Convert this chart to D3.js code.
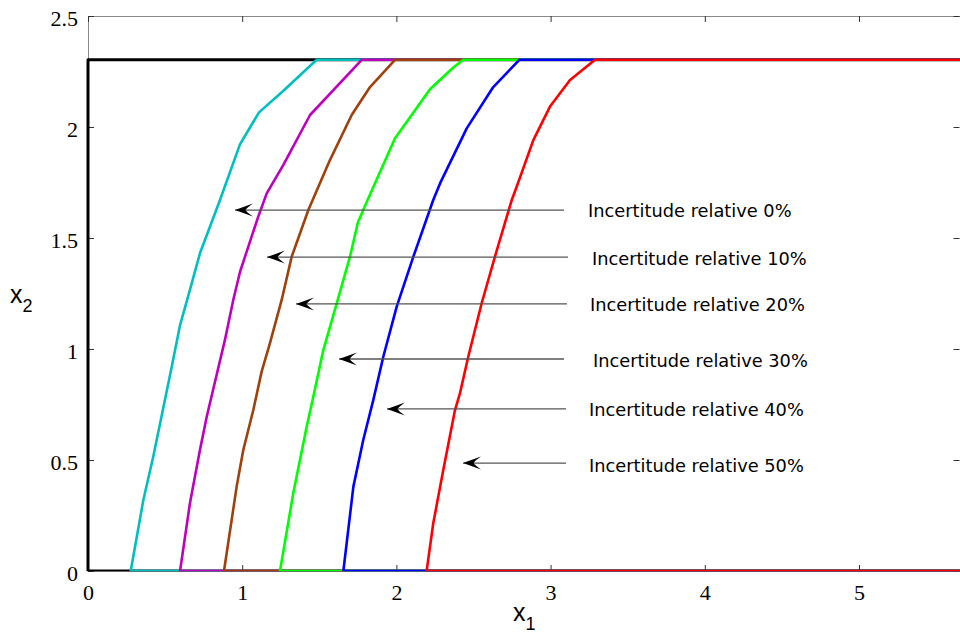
<!DOCTYPE html>
<html>
<head>
<meta charset="utf-8">
<script src="https://cdn.jsdelivr.net/npm/d3@7"></script>
<style>
  body { margin: 0; background: #fff; }
  svg { display: block; }
  .axis text { font-family: "Liberation Serif", "Times New Roman", serif; }
</style>
</head>
<body>
<script>
// Frontier curves, one per relative uncertainty (x1, x2)
var xMax = 5.655
var plateau = 2.3026

var curve0 = [[0, 0], [0, 2.3026]]
var curve10 = [[0.277, 0], [0.359, 0.32], [0.423, 0.515], [0.543, 0.92], [0.597, 1.108],
  [0.661, 1.266], [0.726, 1.431], [0.856, 1.671], [0.986, 1.923], [1.109, 2.066],
  [1.26, 2.159], [1.483, 2.3026]]
var curve20 = [[0.597, 0], [0.661, 0.305], [0.726, 0.545], [0.77, 0.695], [0.888, 1.041],
  [0.942, 1.221], [0.986, 1.348], [1.104, 1.596], [1.159, 1.701], [1.267, 1.829],
  [1.44, 2.054], [1.775, 2.3026]]
var curve30 = [[0.882, 0], [0.964, 0.38], [1.007, 0.545], [1.072, 0.725], [1.126, 0.898],
  [1.18, 1.026], [1.256, 1.221], [1.321, 1.416], [1.429, 1.626], [1.569, 1.851],
  [1.71, 2.054], [1.829, 2.18], [1.991, 2.3026]]
var curve40 = [[1.245, 0], [1.331, 0.35], [1.418, 0.65], [1.461, 0.785], [1.526, 0.995],
  [1.613, 1.206], [1.699, 1.416], [1.75, 1.57], [1.813, 1.671],
  [1.991, 1.949], [2.218, 2.17], [2.369, 2.268], [2.434, 2.3026]]
var curve50 = [[1.656, 0], [1.721, 0.38], [1.785, 0.59], [1.85, 0.77], [1.915, 0.965],
  [2.002, 1.191], [2.11, 1.416], [2.239, 1.671], [2.283, 1.746], [2.456, 1.994],
  [2.628, 2.18], [2.797, 2.3026]]
var curve60 = [[2.196, 0], [2.239, 0.215], [2.304, 0.455], [2.38, 0.725], [2.412, 0.8],
  [2.466, 0.965], [2.553, 1.206], [2.639, 1.416], [2.748, 1.671], [2.78, 1.731],
  [2.888, 1.941], [2.996, 2.092], [3.126, 2.212], [3.288, 2.3026]]

var curves = [curve0, curve10, curve20, curve30, curve40, curve50, curve60]
var curveColors = ['#000000', '#00bfbf', '#bf00bf', '#a0400a', '#00ff00', '#0000ff', '#ff0000']

var xTicks = [0, 1, 2, 3, 4, 5]
var yTicks = [0, 0.5, 1, 1.5, 2, 2.5]

// Arrow annotations: label, tail x, tip x, arrow height, text x, text height
var noteLabels = ['Incertitude relative 0%', 'Incertitude relative 10%', 'Incertitude relative 20%',
  'Incertitude relative 30%', 'Incertitude relative 40%', 'Incertitude relative 50%']
var noteTail = [3.087, 3.113, 3.106, 3.087, 3.1, 3.1]
var noteTip = [0.953, 1.161, 1.349, 1.628, 1.939, 2.432]
var noteY = [1.626, 1.414, 1.203, 0.955, 0.73, 0.486]
var noteTextX = [3.243, 3.268, 3.256, 3.275, 3.249, 3.249]
var noteTextY = [1.622, 1.405, 1.198, 0.946, 0.725, 0.477]

var W = 960, H = 635
var margin = { top: 16, right: 0, bottom: 64, left: 88 }
var w = W - margin.left - margin.right
var h = H - margin.top - margin.bottom

var xScale = d3.scaleLinear().domain([0, xMax]).range([0, w])
var yScale = d3.scaleLinear().domain([0, 2.5]).range([h, 0])

var svg = d3.select('body').append('svg')
    .attr('width', W)
    .attr('height', H)

var defs = svg.append('defs')
defs.append('clipPath')
    .attr('id', 'plotclip')
  .append('rect')
    .attr('x', -4)
    .attr('y', -4)
    .attr('width', w + 4)
    .attr('height', h + 4.3)

defs.append('marker')
    .attr('id', 'head')
    .attr('viewBox', '0 -7 18 14')
    .attr('refX', 18)
    .attr('refY', 0)
    .attr('markerUnits', 'userSpaceOnUse')
    .attr('markerWidth', 18)
    .attr('markerHeight', 14)
    .attr('orient', 'auto')
  .append('path')
    .attr('d', 'M18,0 L0,-6.5 Q6,-2.5 7.5,0 Q6,2.5 0,6.5 Z')
    .attr('fill', '#000')

var g = svg.append('g')
    .attr('transform', 'translate(' + margin.left + ',' + margin.top + ')')

// Axes box
g.append('rect')
    .attr('x', 0.5)
    .attr('y', 0.5)
    .attr('width', w)
    .attr('height', h)
    .attr('fill', 'none')
    .attr('stroke', '#8a8a8a')
    .attr('stroke-width', 1)

// Ticks (inside the box, on all four sides)
var fmt = d3.format('')
var xAxis = d3.axisBottom(xScale).tickValues(xTicks).tickSizeInner(-6).tickSizeOuter(0).tickPadding(12).tickFormat(fmt)
var yAxis = d3.axisLeft(yScale).tickValues(yTicks).tickSizeInner(-6).tickSizeOuter(0).tickPadding(10).tickFormat(fmt)

var gx = g.append('g')
    .attr('class', 'axis')
    .attr('transform', 'translate(0,' + h + ')')
    .call(xAxis)
var gy = g.append('g')
    .attr('class', 'axis')
    .call(yAxis)

g.append('g')
    .call(d3.axisTop(xScale).tickValues(xTicks).tickSizeInner(-6).tickSizeOuter(0).tickFormat(''))
g.append('g')
    .attr('transform', 'translate(' + (w - 0.5) + ',0)')
    .call(d3.axisRight(yScale).tickValues(yTicks).tickSizeInner(-6).tickSizeOuter(0).tickFormat(''))

svg.selectAll('.domain').remove()
svg.selectAll('.tick line').attr('stroke', '#333')
svg.selectAll('.axis').attr('font-family', null)
svg.selectAll('.axis text')
    .attr('font-size', '22px')
    .attr('fill', '#000')
gy.selectAll('text').attr('dy', '0.42em')
gx.selectAll('text').attr('dy', '0.78em')

// Curves, each running on along the bottom and top to the right edge
var line = d3.line()
    .x(function (d) { return xScale(d[0]) })
    .y(function (d) { return yScale(d[1]) })

var plot = g.append('g').attr('clip-path', 'url(#plotclip)')
plot.selectAll('path.curve')
    .data(curves)
    .enter()
  .append('path')
    .attr('class', 'curve')
    .attr('d', function (d) {
      return line([[xMax, 0]].concat(d).concat([[xMax, plateau]]))
    })
    .attr('fill', 'none')
    .attr('stroke', function (d, i) { return curveColors[i] })
    .attr('stroke-width', function (d, i) { return i === 0 ? 3 : 2.6 })
    .attr('stroke-linejoin', 'round')

// Annotation arrows
var notes = d3.range(noteLabels.length)
g.selectAll('line.note')
    .data(notes)
    .enter()
  .append('line')
    .attr('class', 'note')
    .attr('x1', function (i) { return xScale(noteTail[i]) })
    .attr('x2', function (i) { return xScale(noteTip[i]) })
    .attr('y1', function (i) { return yScale(noteY[i]) })
    .attr('y2', function (i) { return yScale(noteY[i]) })
    .attr('stroke', '#555')
    .attr('stroke-width', 1.3)
    .attr('marker-end', 'url(#head)')

g.selectAll('text.note')
    .data(notes)
    .enter()
  .append('text')
    .attr('class', 'note')
    .attr('x', function (i) { return xScale(noteTextX[i]) })
    .attr('y', function (i) { return yScale(noteTextY[i]) })
    .attr('dy', '0.36em')
    .attr('font-family', 'DejaVu Sans, sans-serif')
    .attr('font-size', '17.8px')
    .attr('fill', '#000')
    .text(function (i) { return noteLabels[i] })

// Axis labels x1, x2
var xl = svg.append('text')
    .attr('x', 513)
    .attr('y', 621)
    .attr('font-family', 'Liberation Sans, Arial, sans-serif')
    .attr('font-size', '25px')
    .text('x')
xl.append('tspan').attr('dy', 9).attr('font-size', '18px').text('1')

var yl = svg.append('text')
    .attr('x', 10)
    .attr('y', 303)
    .attr('font-family', 'Liberation Sans, Arial, sans-serif')
    .attr('font-size', '25px')
    .text('x')
yl.append('tspan').attr('dy', 9).attr('font-size', '18px').text('2')
</script>
</body>
</html>
